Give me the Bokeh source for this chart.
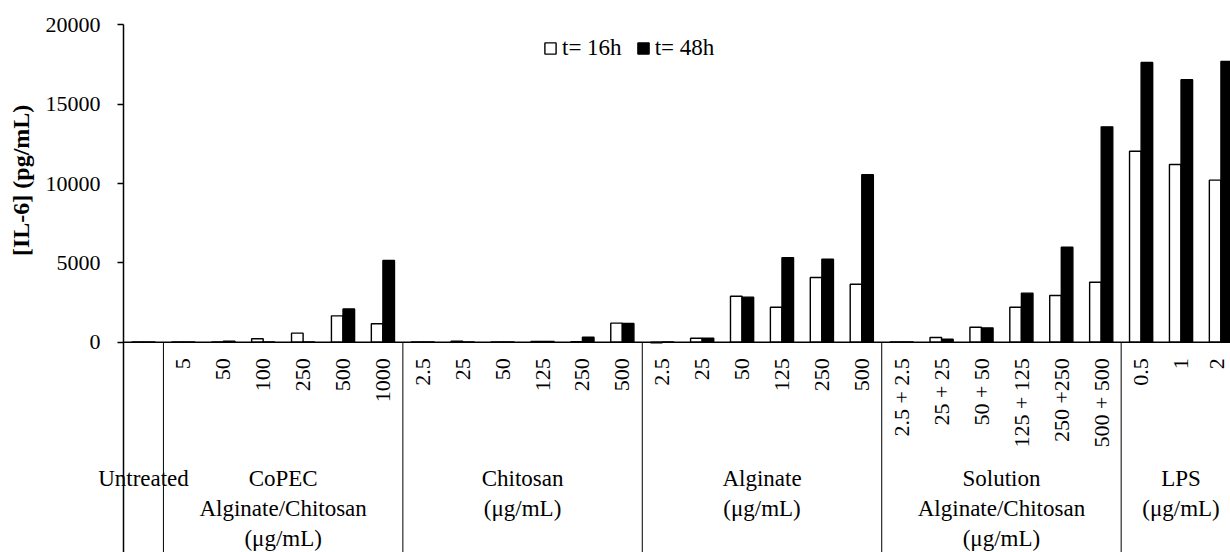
from bokeh.plotting import figure
from bokeh.models import (Range1d, FixedTicker, Legend, LegendItem, ColumnDataSource, Label)
from bokeh.transform import dodge
from bokeh.embed import file_html
from bokeh.resources import INLINE
import math

FONT = "Liberation Serif"

# ---- data ----
conc_labels = ["",
               "5", "50", "100", "250", "500", "1000",
               "2.5", "25", "50", "125", "250", "500",
               "2.5", "25", "50", "125", "250", "500",
               "2.5 + 2.5", "25 + 25", "50 + 50", "125 + 125", "250 +250", "500 + 500",
               "0.5", "1", "2"]
il6_16h = [20,
           20, 20, 215, 570, 1660, 1160,
           20, 60, 20, 40, 30, 1200,
           -40, 250, 2900, 2205, 4080, 3655,
           20, 300, 945, 2205, 2940, 3780,
           12035, 11195, 10210]
il6_48h = [20,
           20, 60, 20, 20, 2100, 5150,
           20, 20, 20, 40, 315, 1180,
           20, 250, 2840, 5320, 5230, 10550,
           20, 190, 905, 3090, 5985, 13570,
           17625, 16535, 17690]
group_names = [["Untreated"],
               ["CoPEC", "Alginate/Chitosan", "(μg/mL)"],
               ["Chitosan", "(μg/mL)"],
               ["Alginate", "(μg/mL)"],
               ["Solution", "Alginate/Chitosan", "(μg/mL)"],
               ["LPS", "(μg/mL)"]]
group_sizes = [1, 6, 6, 6, 6, 3]
y_ticks = [0, 5000, 10000, 15000, 20000]
y_title = "[IL-6] (pg/mL)"

# ---- layout ----
n = len(conc_labels)
xs = [i + 0.5 for i in range(n)]
src = ColumnDataSource(dict(x=xs, a=il6_16h, b=il6_48h))

YMIN = -13251
YMAX = 21531
p = figure(width=1230, height=552, output_backend="svg", toolbar_location=None,
           x_range=Range1d(-3.083, 27.74), y_range=Range1d(YMIN, YMAX),
           x_axis_location=None, min_border_left=0, min_border_right=0,
           min_border_top=0, min_border_bottom=0)
p.outline_line_color = None
p.xgrid.visible = False
p.ygrid.visible = False
p.background_fill_color = "white"

bw = 0.29
r16 = p.vbar(x=dodge("x", -bw / 2, range=p.x_range), top="a", bottom=0, width=bw,
             source=src, fill_color="white", line_color="black", line_width=1.4)
r48 = p.vbar(x=dodge("x", bw / 2, range=p.x_range), top="b", bottom=0, width=bw,
             source=src, fill_color="black", line_color="black", line_width=1.4)

# zero baseline
p.segment(x0=[0], y0=[0], x1=[n], y1=[0], line_color="black", line_width=1.5)

# group separators
bounds = []
acc = 0
for s in group_sizes[:-1]:
    acc += s
    bounds.append(acc)
p.segment(x0=bounds, y0=[0] * len(bounds), x1=bounds, y1=[YMIN] * len(bounds),
          line_color="black", line_width=1)

# rotated concentration labels (last one nudged so it stays inside the page)
for i, (x, lab) in enumerate(zip(xs, conc_labels)):
    if not lab:
        continue
    p.add_layout(Label(x=x, y=0, text=lab, angle=math.pi / 2, text_align="right",
                       text_baseline="middle", y_offset=-16,
                       x_offset=(-4 if i == n - 1 else 0), text_font=FONT,
                       text_font_size="22px", text_color="black"))

# group names
starts = [0]
for s in group_sizes[:-1]:
    starts.append(starts[-1] + s)
for st, sz, lines in zip(starts, group_sizes, group_names):
    cx = st + sz / 2
    for k, line in enumerate(lines):
        p.add_layout(Label(x=cx, y=0, text=line, text_align="center",
                           text_baseline="middle", y_offset=-(136 + 30 * k),
                           text_font=FONT, text_font_size="23px", text_color="black"))

# y axis, drawn at x = 0 inside the frame
ax = p.yaxis[0]
ax.fixed_location = 0
ax.bounds = (YMIN, 20000)
ax.ticker = FixedTicker(ticks=y_ticks)
ax.minor_tick_line_color = None
ax.major_tick_in = 0
ax.major_tick_out = 6
ax.major_tick_line_width = 1.5
ax.axis_line_width = 1.5
ax.major_label_standoff = 17
ax.major_label_text_font = FONT
ax.major_label_text_font_size = "22px"
ax.major_label_text_color = "black"

# y axis title beside the upper part of the axis
p.add_layout(Label(x=-2.57, y=10200, text=y_title, angle=math.pi / 2,
                   text_align="center", text_baseline="middle", text_font=FONT,
                   text_font_style="bold", text_font_size="24px", text_color="black"))

legend = Legend(items=[LegendItem(label="t= 16h", renderers=[r16]),
                       LegendItem(label="t= 48h", renderers=[r48])],
                orientation="horizontal", location=(543, 491),
                border_line_color=None, background_fill_alpha=0,
                glyph_width=14, glyph_height=14, label_standoff=5, spacing=14,
                padding=0, margin=0, label_text_font=FONT,
                label_text_font_size="23px", label_text_color="black")
p.add_layout(legend, "center")

open("out.html", "w").write(file_html(p, INLINE))
